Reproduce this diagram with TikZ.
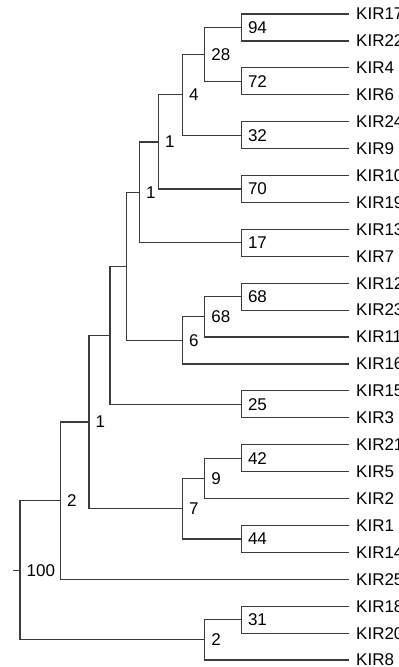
\documentclass[tikz,border=0pt]{standalone}
\usepackage{fontspec}
\setmainfont{Liberation Sans}
\definecolor{branch}{RGB}{60,60,60}

\begin{document}
\begin{tikzpicture}[x=1pt,y=-1pt,
  edge/.style={draw=branch, line width=1.2pt},
  leaf/.style={anchor=west, inner sep=0pt, xshift=7pt, font=\fontsize{17}{20}\selectfont},
  boot/.style={anchor=west, inner sep=0pt, xshift=6.5pt, font=\fontsize{17}{20}\selectfont}]
\useasboundingbox (0,0) rectangle (399,667);
\clip (0,0) rectangle (399,667);

% leaves
\foreach \k [count=\i from 0] in {17,22,4,6,24,9,10,19,13,7,12,23,11,16,15,3,21,5,2,1,14,25,18,20,8}
  {\coordinate (l\k) at (349,{14+\i*26.92});
   \node[leaf] (t\k) at (l\k) {KIR\k};}

% inner nodes
\coordinate (n94) at (241.3,27.45);
\coordinate (n72) at (241.3,81.3);
\coordinate (n28) at (204.7,54.4);
\coordinate (n32) at (241.3,135.15);
\coordinate (n4) at (182.3,94.8);
\coordinate (n70) at (241.3,188.95);
\coordinate (nA) at (158.3,141.9);
\coordinate (n17) at (241.3,242.85);
\coordinate (nB) at (139.3,192.4);
\coordinate (n68a) at (241.3,296.65);
\coordinate (n68b) at (204.7,316.8);
\coordinate (n6) at (182.3,340.4);
\coordinate (nC) at (126.7,266.4);
\coordinate (n25) at (241.3,404.35);
\coordinate (nD) at (110,335.4);
\coordinate (n42) at (241.3,458.15);
\coordinate (n9) at (204.7,478.4);
\coordinate (n44) at (241.3,538.95);
\coordinate (n7) at (182.3,508.7);
\coordinate (nE) at (89,422);
\coordinate (nF) at (60.3,500.65);
\coordinate (n31) at (241.3,619.7);
\coordinate (n2b) at (204.7,639.85);
\coordinate (root) at (20,570.25);
\coordinate (stub) at (13,570.25);

% branches
\foreach \p/\a/\b in {n94/l17/l22, n72/l4/l6, n28/n94/n72, n32/l24/l9, n4/n28/n32,
  n70/l10/l19, nA/n4/n70, n17/l13/l7, nB/nA/n17, n68a/l12/l23, n68b/n68a/l11,
  n6/n68b/l16, nC/nB/n6, n25/l15/l3, nD/nC/n25, n42/l21/l5, n9/n42/l2,
  n44/l1/l14, n7/n9/n44, nE/nD/n7, nF/nE/l25, n31/l18/l20, n2b/n31/l8,
  root/nF/n2b}
  {\draw[edge] (\a) -| (\p) |- (\b);}
\draw[edge] (stub) -- (root);

% bootstrap values
\node[boot] (b94) at (n94) {94};
\node[boot] (b72) at (n72) {72};
\node[boot] (b28) at (n28) {28};
\node[boot] (b32) at (n32) {32};
\node[boot] (b4) at (n4) {4};
\node[boot] (b70) at (n70) {70};
\node[boot] (bA) at (nA) {1};
\node[boot] (b17) at (n17) {17};
\node[boot] (bB) at (nB) {1};
\node[boot] (b68a) at (n68a) {68};
\node[boot] (b68b) at (n68b) {68};
\node[boot] (b6) at (n6) {6};
\node[boot] (b25) at (n25) {25};
\node[boot] (b42) at (n42) {42};
\node[boot] (b9) at (n9) {9};
\node[boot] (b44) at (n44) {44};
\node[boot] (b7) at (n7) {7};
\node[boot] (bE) at (nE) {1};
\node[boot] (bF) at (nF) {2};
\node[boot] (b31) at (n31) {31};
\node[boot] (b2b) at (n2b) {2};
\node[boot] (broot) at (root) {100};

\end{tikzpicture}
\end{document}
